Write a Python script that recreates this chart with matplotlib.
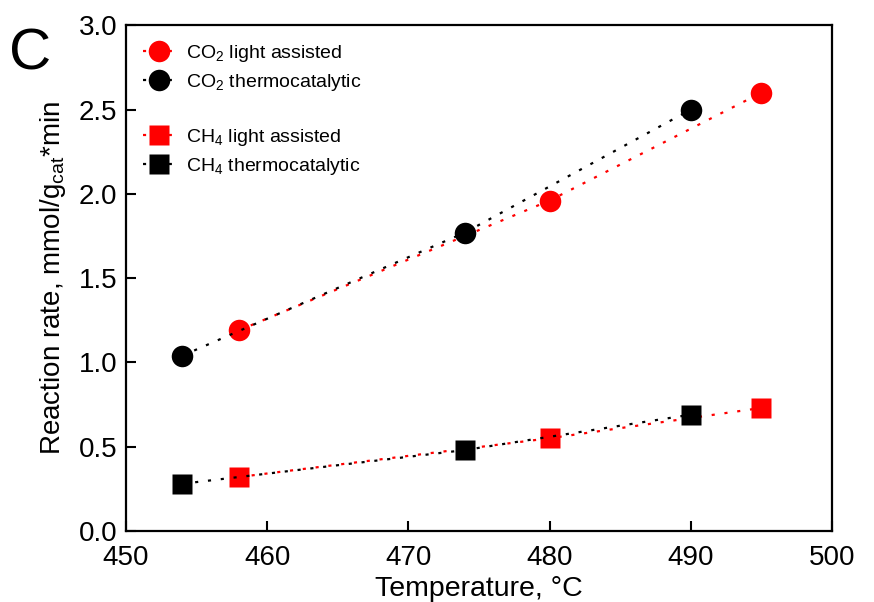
import matplotlib
matplotlib.use('Agg')
import matplotlib.pyplot as plt
from matplotlib.lines import Line2D

plt.rcParams['font.family'] = ['Liberation Sans', 'DejaVu Sans']
plt.rcParams['mathtext.fontset'] = 'custom'
plt.rcParams['mathtext.rm'] = 'Liberation Sans'
plt.rcParams['mathtext.it'] = 'Liberation Sans:italic'

# reaction rates, mmol/g_cat*min
co2_light_t = [458, 480, 495]
co2_light = [1.19, 1.96, 2.60]
co2_thermo_t = [454, 474, 490]
co2_thermo = [1.04, 1.77, 2.50]
ch4_light_t = [458, 480, 495]
ch4_light = [0.32, 0.55, 0.73]
ch4_thermo_t = [454, 474, 490]
ch4_thermo = [0.28, 0.48, 0.69]

fig = plt.figure(figsize=(8.74, 6.02), dpi=100)
ax = fig.add_axes([0.144, 0.118, 0.808, 0.840])

dots = (0, (1.4, 4.4))
ax.plot(co2_light_t, co2_light, color='red', ls=dots, lw=1.6, marker='o', ms=15.5,
        mec='none', label=r'CO$_2$ light assisted')
ax.plot(co2_thermo_t, co2_thermo, color='black', ls=dots, lw=1.6, marker='o', ms=15.5,
        mec='none', label=r'CO$_2$ thermocatalytic')
ax.plot(ch4_light_t, ch4_light, color='red', ls=dots, lw=1.6, marker='s', ms=14,
        mec='none', label=r'CH$_4$ light assisted')
ax.plot(ch4_thermo_t, ch4_thermo, color='black', ls=dots, lw=1.6, marker='s', ms=14,
        mec='none', label=r'CH$_4$ thermocatalytic')

ax.set_xlim(450, 500)
ax.set_ylim(0, 3.0)
ax.set_xticks(range(450, 501, 10))
ax.set_yticks([0, 0.5, 1.0, 1.5, 2.0, 2.5, 3.0])
ax.set_yticklabels(['0.0', '0.5', '1.0', '1.5', '2.0', '2.5', '3.0'])
ax.tick_params(direction='in', length=7, width=1.5, labelsize=20)
ax.tick_params(axis='x', pad=10)
ax.tick_params(axis='y', pad=6)
for s in ax.spines.values():
    s.set_linewidth(1.6)

ax.set_xlabel('Temperature, °C', fontsize=20.5, labelpad=4)
ax.set_ylabel(r'Reaction rate, mmol/g$_{\mathrm{cat}}$*min', fontsize=20, labelpad=8)

# blank row separates the CO2 and CH4 entries
handles, labels = ax.get_legend_handles_labels()
blank = Line2D([], [], color='none')
handles = handles[:2] + [blank] + handles[2:]
labels = labels[:2] + [''] + labels[2:]
ax.legend(handles, labels, loc='upper left', frameon=False, fontsize=14,
          handlelength=1.6, handletextpad=0.6, labelspacing=0.42,
          borderaxespad=0.5, numpoints=1)

fig.text(0.01, 0.885, 'C', fontsize=42)

fig.savefig('out.png', dpi=100)
